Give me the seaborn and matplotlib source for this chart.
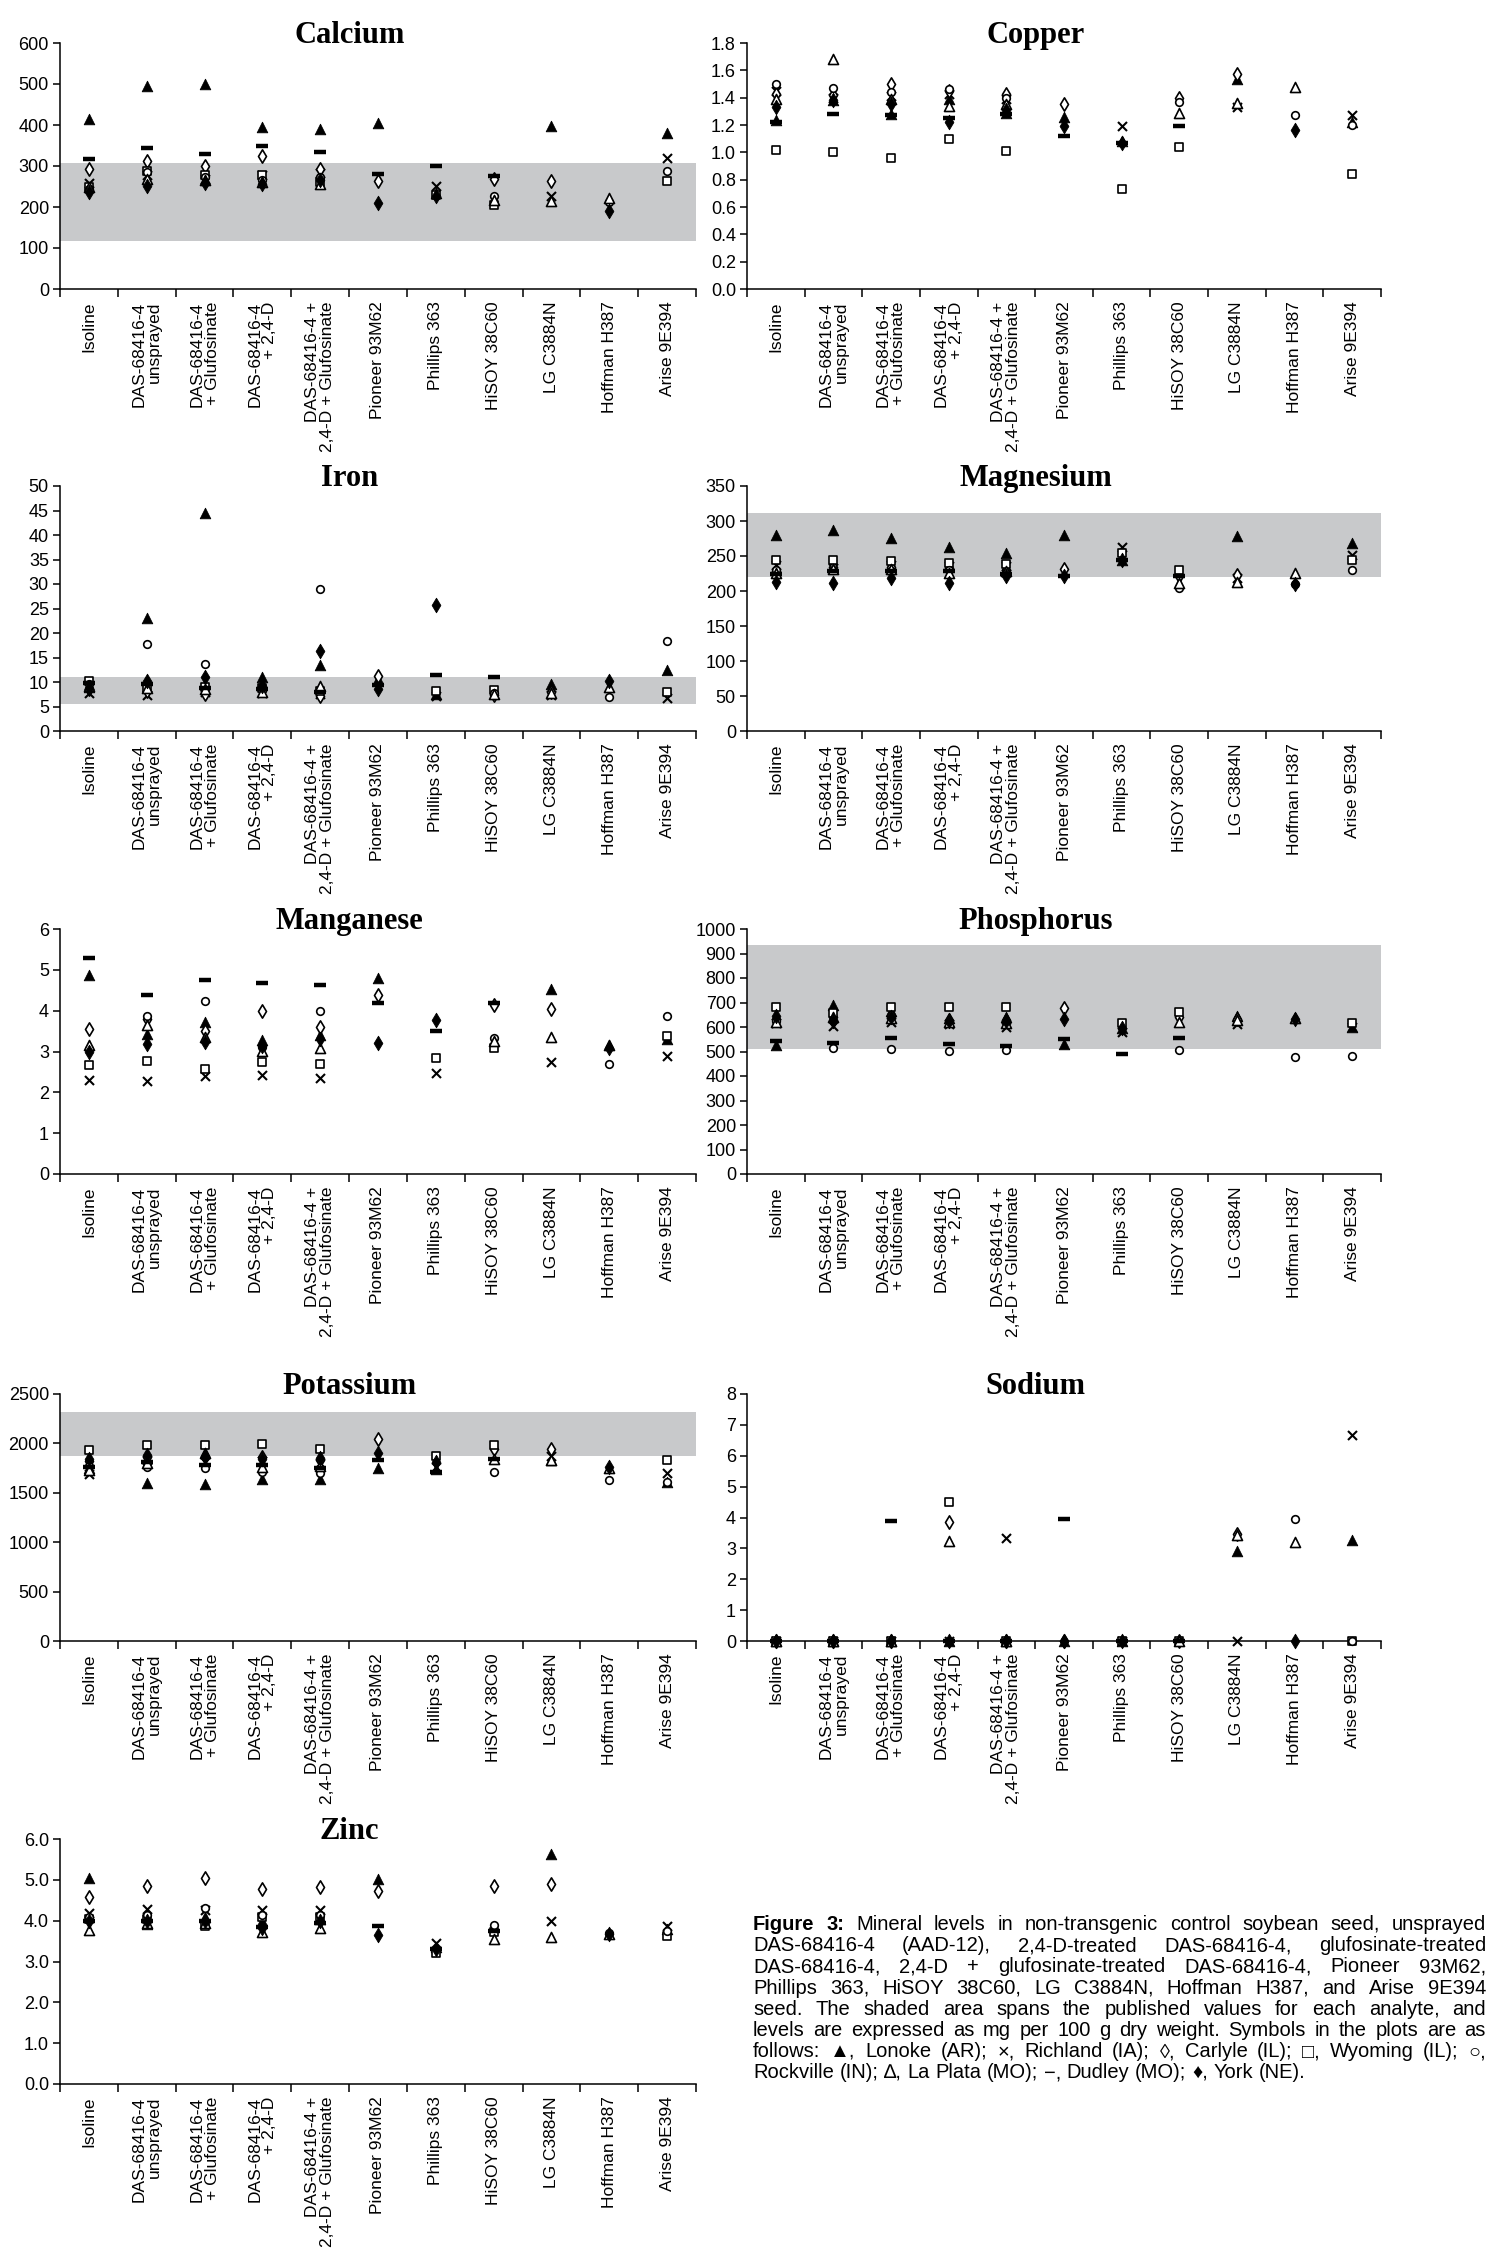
import numpy as np
import pandas as pd
import matplotlib
matplotlib.use("Agg")
import matplotlib.pyplot as plt
import seaborn as sns
from matplotlib import font_manager as fm

N = None

CATEGORIES = [
    "Isoline",
    "DAS-68416-4\nunsprayed",
    "DAS-68416-4\n+ Glufosinate",
    "DAS-68416-4\n+ 2,4-D",
    "DAS-68416-4 +\n2,4-D + Glufosinate",
    "Pioneer 93M62",
    "Phillips 363",
    "HiSOY 38C60",
    "LG C3884N",
    "Hoffman H387",
    "Arise 9E394",
]

LOCATIONS = ["Lonoke (AR)", "Richland (IA)", "Carlyle (IL)", "Wyoming (IL)",
             "Rockville (IN)", "La Plata (MO)", "Dudley (MO)", "York (NE)"]

# rows = categories, columns = locations (order of LOCATIONS)
CALCIUM = [
    [414, 258, 293, 248, 243, 250, 317, 237],
    [495, 277, 313, 289, 285, 269, 345, 251],
    [500, 269, 299, 279, 273, 265, 330, 259],
    [396, 277, 324, 279, 265, 261, 348, 255],
    [391, 284, 293, 261, 273, 256, 335, 265],
    [406, N, 263, N, N, N, 281, 210],
    [233, 251, N, 230, N, N, 300, 228],
    [N, N, 268, 205, 228, 216, 276, N],
    [398, 228, 263, N, N, 214, N, N],
    [N, N, N, N, 213, 222, N, 191],
    [381, 320, N, 263, 288, N, N, N],
]
COPPER = [
    [1.24, 1.45, 1.43, 1.02, 1.50, 1.39, 1.22, 1.33],
    [1.38, 1.40, 1.42, 1.00, 1.47, 1.68, 1.28, 1.38],
    [1.28, 1.41, 1.50, 0.96, 1.44, 1.39, 1.27, 1.35],
    [1.39, 1.43, 1.45, 1.10, 1.46, 1.34, 1.25, 1.22],
    [1.29, 1.39, 1.43, 1.01, 1.40, 1.35, 1.28, 1.31],
    [1.26, N, 1.35, N, N, N, 1.12, 1.19],
    [1.08, 1.19, N, 0.73, N, N, 1.07, 1.07],
    [N, N, 1.40, 1.04, 1.37, 1.29, 1.19, N],
    [1.54, 1.33, 1.57, N, N, 1.36, N, N],
    [N, N, N, N, 1.27, 1.48, N, 1.16],
    [1.22, 1.27, N, 0.84, 1.20, N, N, N],
]
IRON = [
    [9.0, 7.7, 8.5, 10.3, 9.5, 9.2, 9.8, 8.8],
    [23.0, 7.3, 8.2, 8.5, 17.7, 8.7, 9.5, 10.2],
    [44.4, 7.9, 7.5, 9.0, 13.7, 8.5, 8.8, 11.0],
    [11.0, 7.7, 8.6, 8.8, 8.3, 8.0, 8.5, 9.2],
    [13.4, 7.5, 7.2, 8.2, 28.9, 9.2, 7.9, 16.3],
    [10.6, N, 11.2, N, N, N, 9.4, 8.5],
    [7.6, 7.2, N, 8.2, N, N, 11.5, 25.8],
    [N, N, 7.4, 8.3, 7.8, 7.6, 11.0, N],
    [9.6, 7.4, 8.0, N, N, 7.8, N, N],
    [N, N, N, N, 7.0, 9.0, N, 10.2],
    [12.4, 6.7, N, 8.0, 18.3, N, N, N],
]
MAGNESIUM = [
    [280, 237, 228, 245, 230, 226, 224, 213],
    [287, 233, 234, 245, 230, 231, 228, 211],
    [276, 237, 234, 243, 229, 232, 228, 219],
    [263, 236, 233, 240, 230, 226, 228, 212],
    [255, 236, 230, 239, 226, 228, 224, 221],
    [280, N, 232, N, N, N, 222, 221],
    [245, 263, N, 255, N, N, 244, 244],
    [N, N, 221, 230, 205, 212, 222, N],
    [278, 218, 223, N, N, 213, N, N],
    [N, N, N, N, 210, 226, N, 210],
    [268, 251, N, 245, 230, N, N, N],
]
MANGANESE = [
    [4.88, 2.31, 3.56, 2.67, 3.05, 3.17, 5.28, 3.00],
    [3.43, 2.27, 3.80, 2.77, 3.86, 3.65, 4.38, 3.19],
    [3.72, 2.39, 3.51, 2.57, 4.23, 3.35, 4.76, 3.24],
    [3.29, 2.43, 4.00, 2.75, 3.10, 3.01, 4.67, 3.13],
    [3.40, 2.35, 3.60, 2.69, 3.98, 3.09, 4.62, 3.31],
    [4.80, N, 4.39, N, N, N, 4.18, 3.20],
    [N, 2.47, N, 2.84, N, N, 3.49, 3.78],
    [N, N, 4.15, 3.09, 3.32, 3.25, 4.18, N],
    [4.54, 2.75, 4.04, N, N, 3.35, N, N],
    [N, N, N, N, 2.69, 3.17, N, 3.08],
    [3.31, 2.89, N, 3.39, 3.88, N, N, N],
]
PHOSPHORUS = [
    [525, 615, 632, 680, 625, 620, 542, 645],
    [689, 605, 640, 656, 515, 640, 535, 625],
    [667, 620, 650, 680, 511, 635, 556, 640],
    [636, 612, 630, 683, 502, 620, 529, 625],
    [640, 600, 630, 683, 506, 615, 522, 625],
    [529, N, 676, N, N, N, 553, 633],
    [595, 580, N, 616, N, N, 491, 596],
    [N, N, 640, 663, 505, 620, 556, N],
    [643, 612, 632, N, N, 628, N, N],
    [N, N, N, N, 478, 636, N, 632],
    [598, 600, N, 616, 482, N, N, N],
]
POTASSIUM = [
    [1747, 1687, 1820, 1931, 1770, 1730, 1760, 1847],
    [1603, 1830, 1860, 1981, 1764, 1800, 1814, 1881],
    [1586, 1814, 1860, 1981, 1747, 1900, 1780, 1874],
    [1637, 1820, 1864, 1998, 1713, 1760, 1780, 1840],
    [1640, 1800, 1830, 1941, 1703, 1770, 1750, 1854],
    [1754, N, 2048, N, N, N, 1831, 1904],
    [1740, 1760, N, 1874, N, N, 1713, 1807],
    [N, N, 1941, 1981, 1713, 1847, 1840, N],
    [1837, 1870, 1941, N, N, 1830, N, N],
    [N, N, N, N, 1630, 1755, N, 1764],
    [1613, 1703, N, 1831, 1610, N, N, N],
]
SODIUM = [
    [0, 0, 0, 0, 0, 0, 0, 0],
    [0, 0, 0, 0, 0, 0, 0, 0],
    [0, 0, 0, 0, 0, 0, 3.89, 0],
    [0, 0, 3.85, 4.51, 0, 3.25, 0, 0],
    [0, 3.33, 0, 0, 0, 0, 0, 0],
    [0, N, 0, N, N, N, 3.95, 0],
    [0, 0, N, 0, N, N, 0, 0],
    [N, N, 0, 0, 0, 0, 0, N],
    [2.93, 0, 3.45, N, N, 3.44, N, N],
    [N, N, N, N, 3.95, 3.20, N, 0],
    [3.28, 6.67, N, 0, 0, N, N, N],
]
ZINC = [
    [5.05, 4.20, 4.58, 4.05, 4.10, 3.76, 4.00, 3.98],
    [3.93, 4.28, 4.86, 4.05, 4.15, 3.95, 4.00, 4.00],
    [4.10, 4.25, 5.05, 3.88, 4.32, 3.95, 4.00, 4.00],
    [4.00, 4.26, 4.78, 4.10, 4.15, 3.73, 3.85, 3.82],
    [4.05, 4.26, 4.82, 4.10, 4.15, 3.82, 3.95, 3.98],
    [5.02, N, 4.73, N, N, N, 3.88, 3.66],
    [3.35, 3.46, N, 3.22, N, N, 3.30, 3.30],
    [N, N, 4.86, 3.72, 3.89, 3.56, 3.75, N],
    [5.63, 3.98, 4.90, N, N, 3.60, N, N],
    [N, N, N, N, 3.70, 3.68, N, 3.67],
    [3.80, 3.86, N, 3.62, 3.75, N, N, N],
]

# published ranges (shaded bands)
CALCIUM_BAND = (118, 308)
IRON_BAND = (5.6, 11.0)
MAGNESIUM_BAND = (220, 312)
PHOSPHORUS_BAND = (509, 934)
POTASSIUM_BAND = (1874, 2316)

CAPTION = [
    "Figure 3: Mineral levels in non-transgenic control soybean seed, unsprayed",
    "DAS-68416-4 (AAD-12), 2,4-D-treated DAS-68416-4, glufosinate-treated",
    "DAS-68416-4, 2,4-D + glufosinate-treated DAS-68416-4, Pioneer 93M62,",
    "Phillips 363, HiSOY 38C60, LG C3884N, Hoffman H387, and Arise 9E394",
    "seed.  The shaded area spans the published values for each analyte, and",
    "levels are expressed as mg per 100 g dry weight.  Symbols in the plots are as",
    "follows: \u25B2, Lonoke (AR); \u00D7, Richland (IA); \u25CA, Carlyle (IL); \u25A1, Wyoming (IL); \u25CB,",
    "Rockville (IN); \u2206, La Plata (MO); \u2212, Dudley (MO); \u2666, York (NE).",
]

# ---------------------------------------------------------------- styling
sns.set_theme(style="ticks")
names = {f.name for f in fm.fontManager.ttflist}
SANS = "Liberation Sans" if "Liberation Sans" in names else "DejaVu Sans"
NARROW = "Liberation Sans Narrow" if "Liberation Sans Narrow" in names else SANS
SERIF = "Liberation Serif" if "Liberation Serif" in names else "DejaVu Serif"
plt.rcParams["font.family"] = [SANS, "DejaVu Sans"]
plt.rcParams.update({
    "axes.edgecolor": "black", "xtick.color": "black", "ytick.color": "black",
    "axes.linewidth": 1.1, "text.color": "black",
})

STYLES = {
    "Lonoke (AR)": dict(marker="^", s=58, facecolor="black", edgecolor="black", linewidth=0.6),
    "Richland (IA)": dict(marker="x", s=42, color="black", linewidth=1.5),
    "Carlyle (IL)": dict(marker="d", s=46, facecolor="white", edgecolor="black", linewidth=1.2),
    "Wyoming (IL)": dict(marker="s", s=30, facecolor="white", edgecolor="black", linewidth=1.2),
    "Rockville (IN)": dict(marker="o", s=30, facecolor="white", edgecolor="black", linewidth=1.2),
    "La Plata (MO)": dict(marker="^", s=52, facecolor="white", edgecolor="black", linewidth=1.2),
    "Dudley (MO)": dict(marker="_", s=65, color="black", linewidth=3.2),
    "York (NE)": dict(marker="d", s=55, facecolor="black", edgecolor="black", linewidth=0.6),
}

W, H = 1500, 2256
fig = plt.figure(figsize=(W / 100, H / 100), dpi=100)

COLS = [(60, 636), (747, 634)]
ROWS = [(43, 289), (486, 731), (929, 1174), (1394, 1641), (1839, 2084)]

PANELS = [
    ("Calcium", CALCIUM, np.arange(0, 601, 100), "{:.0f}", CALCIUM_BAND, 0, 0),
    ("Copper", COPPER, np.arange(0, 1.81, 0.2), "{:.1f}", None, 0, 1),
    ("Iron", IRON, np.arange(0, 51, 5), "{:.0f}", IRON_BAND, 1, 0),
    ("Magnesium", MAGNESIUM, np.arange(0, 351, 50), "{:.0f}", MAGNESIUM_BAND, 1, 1),
    ("Manganese", MANGANESE, np.arange(0, 7, 1), "{:.0f}", None, 2, 0),
    ("Phosphorus", PHOSPHORUS, np.arange(0, 1001, 100), "{:.0f}", PHOSPHORUS_BAND, 2, 1),
    ("Potassium", POTASSIUM, np.arange(0, 2501, 500), "{:.0f}", POTASSIUM_BAND, 3, 0),
    ("Sodium", SODIUM, np.arange(0, 9, 1), "{:.0f}", None, 3, 1),
    ("Zinc", ZINC, np.arange(0, 6.01, 1.0), "{:.1f}", None, 4, 0),
]

for title, table, yticks, fmt, band, r, c in PANELS:
    x0, w = COLS[c]
    top, bot = ROWS[r]
    ax = fig.add_axes([x0 / W, 1 - bot / H, w / W, (bot - top) / H])
    df = pd.DataFrame(table, columns=LOCATIONS, dtype=float)
    df["category"] = CATEGORIES
    long = df.melt(id_vars="category", var_name="location", value_name="value").dropna()
    long["pos"] = pd.Categorical(long["category"], categories=CATEGORIES).codes

    if band is not None:
        ax.axhspan(band[0], band[1], color="#c8c9cb", lw=0, zorder=0)
    for loc in LOCATIONS:
        sub = long[long["location"] == loc]
        sns.scatterplot(data=sub, x="pos", y="value", ax=ax, legend=False,
                        zorder=3, clip_on=False, **STYLES[loc])

    ax.set_xlim(-0.5, len(CATEGORIES) - 0.5)
    ax.set_ylim(yticks[0], yticks[-1])
    ax.set_yticks(yticks)
    ax.set_yticklabels([fmt.format(v) for v in yticks], fontsize=13)
    ax.set_xticks(np.arange(-0.5, len(CATEGORIES), 1))
    ax.set_xticklabels([])
    ax.set_xticks(np.arange(len(CATEGORIES)), minor=True)
    ax.set_xticklabels(CATEGORIES, minor=True, rotation=90, ha="center", va="top",
                       multialignment="right", linespacing=1.0, fontsize=12.5)
    ax.tick_params(axis="x", which="major", direction="out", length=6, width=1.1, bottom=True)
    ax.tick_params(axis="x", which="minor", length=0, pad=9)
    ax.tick_params(axis="y", direction="out", length=5, width=1.1, left=True, pad=3)
    ax.set_xlabel("")
    ax.set_ylabel("")
    sns.despine(ax=ax)
    ax.set_title(title, fontsize=22, fontweight="bold", family=SERIF, x=0.455, y=1.0, pad=0)

# ---------------------------------------------------------------- caption
fig.canvas.draw()
rend = fig.canvas.get_renderer()
CAP_X0, CAP_X1 = 753, 1486
CAP_Y0, CAP_DY = 1930, 21.2
cap_family = [NARROW, SANS, "DejaVu Sans"]


def natural_width(line, fs):
    t = fig.text(0, 0, line, fontsize=fs, family=cap_family)
    wdt = t.get_window_extent(rend).width
    t.remove()
    return wdt


# choose the largest size (up to 14.5 pt) for which every justified line fits
cap_fs = 14.5
widest = max(natural_width(" ".join(l.split()), cap_fs) for l in CAPTION[:-1])
if widest > (CAP_X1 - CAP_X0) * 0.985:
    cap_fs = cap_fs * (CAP_X1 - CAP_X0) * 0.985 / widest

probe1 = fig.text(0, 0, "a a", fontsize=cap_fs, family=cap_family)
probe2 = fig.text(0, 0, "aa", fontsize=cap_fs, family=cap_family)
space_w = probe1.get_window_extent(rend).width - probe2.get_window_extent(rend).width
probe1.remove()
probe2.remove()

for i, line in enumerate(CAPTION):
    words = line.split()
    y = 1 - (CAP_Y0 + i * CAP_DY) / H
    objs = []
    for j, wd in enumerate(words):
        weight = "bold" if (i == 0 and j < 2) else "normal"
        t = fig.text(0, y, wd, fontsize=cap_fs, family=cap_family, weight=weight,
                     ha="left", va="baseline")
        objs.append(t)
    widths = [t.get_window_extent(rend).width for t in objs]
    last = i == len(CAPTION) - 1
    if not last and len(objs) > 1:
        gap = (CAP_X1 - CAP_X0 - sum(widths)) / (len(objs) - 1)
    else:
        gap = space_w
    x = CAP_X0
    for t, wd in zip(objs, widths):
        t.set_x(x / W)
        x += wd + gap

fig.savefig("out.png", dpi=100)
